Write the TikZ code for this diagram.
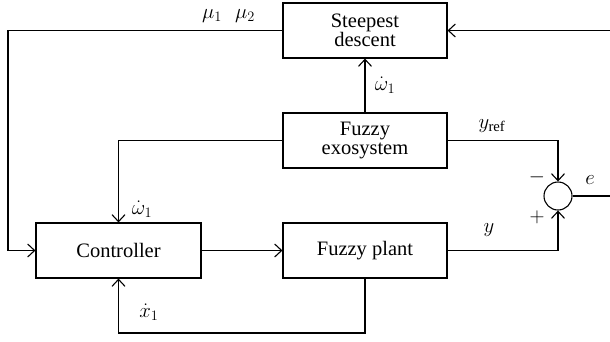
\documentclass[tikz,border=0pt]{standalone}
\usepackage{fontspec}
\setmainfont{Liberation Serif}
\usetikzlibrary{arrows.meta}
\begin{document}
\begin{tikzpicture}[x=1pt,y=-1pt,
  line width=1.1pt,
  >={Straight Barb[length=7pt,width=13pt,line width=1.1pt]},
  block/.style={draw, minimum width=164pt, minimum height=55pt, inner sep=0pt, align=center,
    font=\fontsize{20.5}{20}\selectfont},
  lbl/.style={inner sep=0pt, font=\fontsize{21}{22}\selectfont},
  sumnode/.style={draw, circle, minimum size=28pt, inner sep=0pt}]
\useasboundingbox (0,0) rectangle (610,341);

% blocks
\node[block] (sd)   at (365,30.5)  {Steepest\\[-1pt]descent};
\node[block] (exo)  at (365,140.5) {Fuzzy\\[-1pt]exosystem};
\node[block] (ctrl) at (118.5,250.5) [minimum width=165pt] {Controller};
\node[block] (pl)   at (365,250.5) {Fuzzy plant};
\node[sumnode] (sum) at (558,196) {};

% free ends at the right border
\coordinate (ein)  at (610,30.5);
\coordinate (eout) at (610,196);

% connectors
\draw[->] (ein) -- (sd.east);
\draw[->] (sd.west) -- (8,30.5) |- (ctrl.west);
\draw[->] (exo.north) -- (sd.south);
\draw[->] (exo.west) -| (ctrl.north);
\draw[->] (exo.east) -| (sum.north);
\draw[->] (ctrl.east) -- (pl.west);
\draw[->] (pl.east) -| (sum.south);
\draw[->] (pl.south) -- (365,333) -| (ctrl.south);
\draw (sum.east) -- (eout);

% signal labels
\node[lbl] at (212,16) {$\mu_1$};
\node[lbl] at (245,16) {$\mu_2$};
\node[lbl] at (385,85) {$\dot{\omega}_1$};
\node[lbl] at (142,209) {$\dot{\omega}_1$};
\node[lbl] at (149,312) {$\dot{x}_1$};
\node[lbl] at (492,126) {$y_{\mathrm{ref}}$};
\node[lbl] at (489,230) {$y$};
\node[lbl] at (537,177) {$-$};
\node[lbl] at (537,217) {$+$};
\node[lbl] at (590,180) {$e$};
\end{tikzpicture}
\end{document}
